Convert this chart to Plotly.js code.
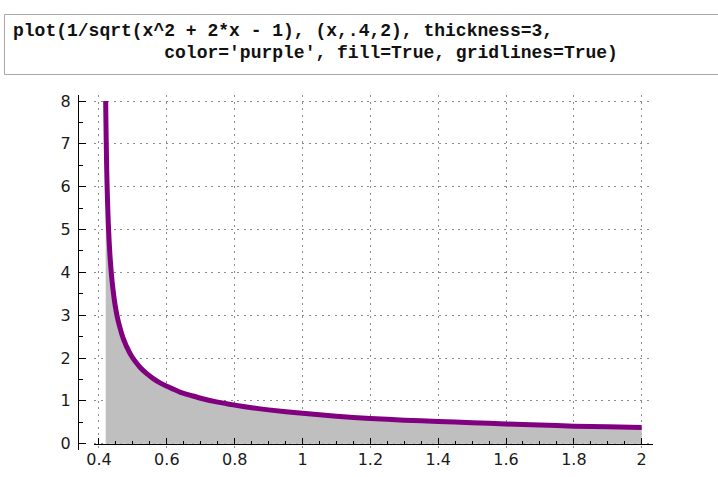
<!DOCTYPE html>
<html>
<head>
<meta charset="utf-8">
<script src="https://cdn.plot.ly/plotly-3.0.1.min.js"></script>
<style>
  html, body { margin: 0; padding: 0; background: #ffffff; }
  #chart { width: 718px; height: 477px; }
</style>
</head>
<body>
<div id="chart"></div>
<script>
// Curve values
const xValues = [0.4198, 0.42, 0.4212, 0.4225, 0.4237, 0.425, 0.4275, 0.43, 0.4325, 0.435, 0.4375, 0.44, 0.445,
                 0.45, 0.455, 0.46, 0.465, 0.47, 0.475, 0.48, 0.485, 0.49, 0.495, 0.5, 0.51, 0.52, 0.54, 0.56,
                 0.58, 0.6, 0.62, 0.64, 0.67, 0.7, 0.75, 0.8, 0.85, 0.9, 1.0, 1.1, 1.2, 1.3, 1.4, 1.5, 1.6, 1.7,
                 1.8, 1.9, 2.0];
const yValues = [8.0, 7.81, 7.11, 6.52, 6.09, 5.71, 5.15, 4.72, 4.38, 4.11, 3.88, 3.69, 3.37,
                 3.12, 2.92, 2.76, 2.62, 2.49, 2.39, 2.29, 2.21, 2.13, 2.06, 2.0, 1.89, 1.79, 1.64, 1.52,
                 1.42, 1.34, 1.27, 1.20, 1.13, 1.06, 0.97, 0.90, 0.84, 0.79, 0.71, 0.64, 0.59, 0.55, 0.52, 0.49, 0.46, 0.435,
                 0.41, 0.395, 0.38];

const xTickVals = [0.4, 0.6, 0.8, 1.0, 1.2, 1.4, 1.6, 1.8, 2.0];
const xTickText = ['0.4', '0.6', '0.8', '1', '1.2', '1.4', '1.6', '1.8', '2'];
const yTickVals = [0, 1, 2, 3, 4, 5, 6, 7, 8];
const yTickText = ['0', '1', '2', '3', '4', '5', '6', '7', '8'];

const codeLines = [
  "plot(1/sqrt(x^2 + 2*x - 1), (x,.4,2), thickness=3,",
  "              color='purple', fill=True, gridlines=True)"
];

const W = 718, H = 477;
const px = v => v / W;
const py = v => 1 - v / H;

const trace = {
  x: xValues,
  y: yValues,
  type: 'scatter',
  mode: 'lines',
  fill: 'tozeroy',
  fillcolor: '#bfbfbf',
  line: { color: '#800080', width: 5, shape: 'spline', smoothing: 0.6 },
  hoverinfo: 'skip',
  showlegend: false
};

const tickFont = { family: 'DejaVu Sans', size: 16, color: '#1a1a1a' };
const gridStyle = { gridcolor: '#8c8c8c', gridwidth: 1, griddash: '2px,4.5px' };

const layout = {
  width: W,
  height: H,
  margin: { l: 0, r: 0, t: 0, b: 0, pad: 0 },
  paper_bgcolor: '#ffffff',
  plot_bgcolor: '#ffffff',
  showlegend: false,
  xaxis: Object.assign({
    domain: [px(94), px(653)],
    range: [0.3853, 2.0333],
    anchor: 'free',
    position: py(443.7),
    tickmode: 'array',
    tickvals: xTickVals,
    ticktext: xTickText,
    ticks: 'inside',
    ticklen: 6,
    tickwidth: 1,
    tickcolor: '#000000',
    showline: true,
    linecolor: '#000000',
    linewidth: 1,
    zeroline: false,
    showgrid: true,
    tickfont: tickFont,
    ticklabelstandoff: 1,
    minor: { tickmode: 'linear', tick0: 0, dtick: 0.05, ticks: 'inside', ticklen: 3, tickwidth: 1, tickcolor: '#000000', showgrid: false },
    fixedrange: true
  }, gridStyle),
  yaxis: Object.assign({
    domain: [py(450), py(95)],
    range: [-0.147, 8.14],
    anchor: 'free',
    position: px(78),
    tickmode: 'array',
    tickvals: yTickVals,
    ticktext: yTickText,
    ticks: 'inside',
    ticklen: 7,
    tickwidth: 1,
    tickcolor: '#000000',
    showline: true,
    linecolor: '#000000',
    linewidth: 1,
    zeroline: false,
    showgrid: true,
    tickfont: tickFont,
    ticklabelstandoff: 4,
    minor: { tickmode: 'linear', tick0: 0, dtick: 0.5, ticks: 'inside', ticklen: 4, tickwidth: 1, tickcolor: '#000000', showgrid: false },
    fixedrange: true
  }, gridStyle),
  shapes: [{
    type: 'rect', xref: 'paper', yref: 'paper',
    x0: px(4.5), x1: 1.05, y0: py(74.5), y1: py(14.5),
    line: { color: '#a8a8a8', width: 1 },
    fillcolor: 'rgba(0,0,0,0)', layer: 'below'
  }],
  annotations: codeLines.map((t, i) => ({
    text: '<b>' + t.replace(/ /g, '&nbsp;') + '</b>',
    xref: 'paper', yref: 'paper',
    x: px(11), y: py(31 + 22 * i),
    xanchor: 'left', yanchor: 'middle',
    showarrow: false,
    align: 'left',
    font: { family: 'Liberation Mono', size: 18, color: '#111111' }
  }))
};

Plotly.newPlot('chart', [trace], layout, { displayModeBar: false, staticPlot: true });
</script>
</body>
</html>
